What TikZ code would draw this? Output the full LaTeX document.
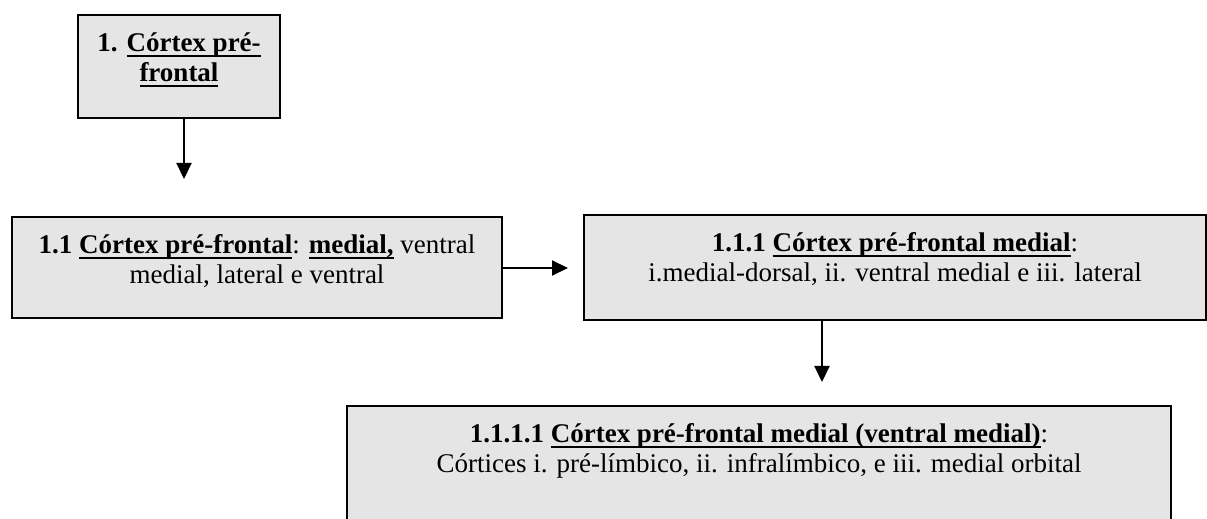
\documentclass[tikz,border=0pt]{standalone}
\usepackage{fontspec}
\setmainfont{Liberation Serif}
\usetikzlibrary{arrows.meta, positioning}
\definecolor{boxgray}{RGB}{229, 229, 229}
\newsavebox{\linhabox}
\newcommand{\sublinha}[1]{\sbox{\linhabox}{#1}\rlap{\rule[-2.7pt]{\wd\linhabox}{0.9pt}}\usebox{\linhabox}}
\newcommand{\boxbody}[3]{\parbox[c][#2][t]{#1}{\centering\vspace*{7.8pt}\strut#3\par}}

\begin{document}
\begin{tikzpicture}[x=0.5pt, y=-0.5pt,
        cortexbox/.style={rectangle, draw=black, line width=1pt, fill=boxgray,
                     inner sep=0pt, anchor=north west, font=\fontsize{13.5}{15}\selectfont},
        flecha/.style={-{Triangle[width=7.5pt, length=8pt]}, line width=1pt}
    ]
        \clip (0,0) rectangle (1207,519);
        \node[cortexbox] (pf) at (77,14)
            {\boxbody{101pt}{51.5pt}{\textbf{1. \sublinha{Córtex pré-}}\\\textbf{\sublinha{frontal}}}};
        \node[cortexbox] (pfm) at (11,216)
            {\boxbody{245pt}{50.5pt}{\textbf{1.1 \sublinha{Córtex pré-frontal}}: \textbf{\sublinha{medial,}} ventral\\medial, lateral e ventral}};
        \node[cortexbox] (med) at (583,214)
            {\boxbody{311pt}{52.5pt}{\textbf{1.1.1 \sublinha{Córtex pré-frontal medial}}:\\i.medial-dorsal, ii. ventral medial e iii. lateral}};
        \node[cortexbox] (vm) at (346,405)
            {\boxbody{412pt}{70pt}{\textbf{1.1.1.1 \sublinha{Córtex pré-frontal medial (ventral medial)}}:\\Córtices i. pré-límbico, ii. infralímbico, e iii. medial orbital}};
        % pontas livres das setas
        \coordinate (a1) at (184,179);
        \coordinate (a2) at (568,268);
        \coordinate (a3) at (822,382);
        \draw[flecha] (pf.south -| a1) -- (a1);
        \draw[flecha] (pfm.east |- a2) -- (a2);
        \draw[flecha] (med.south -| a3) -- (a3);
    \end{tikzpicture}
\end{document}
